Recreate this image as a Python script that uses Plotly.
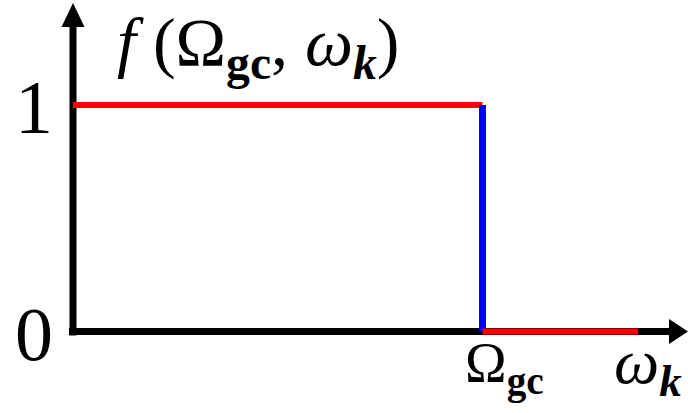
import plotly.graph_objects as go

# Ideal low-pass gate f(Ω_gc, ω_k): 1 below the cutoff, 0 above it
cutoff = 1.0
pass_x = [0.0, cutoff]
pass_y = [1, 1]
edge_x = [cutoff, cutoff]
edge_y = [1, 0]
stop_x = [cutoff, 1.38]
stop_y = [0, 0]
y_ticks = [0, 1]
y_tick_labels = ["0", "1"]

W, H = 688, 413
# pixel placement of the origin and of the (cutoff, 1) corner
ox, oy = 73.0, 331.5
cx, cy = 482.5, 105.0
sx = (cx - ox) / cutoff
sy = (oy - cy) / 1.0
x_range = [-ox / sx, (W - ox) / sx]
y_range = [-(H - oy) / sy, oy / sy]

# axis arrows (in data units derived from pixel sizes)
x_tip = (688 - ox) / sx
x_head_len = 19 / sx
x_head_half = 12.5 / sy
y_tip = (oy - 3) / sy
y_head_len = 24 / sy
y_head_half = 11.5 / sx
axis_w = 7

fig = go.Figure()

shapes = [
    dict(type="line", xref="x", yref="y", x0=-4 / sx, y0=0,
         x1=x_tip - x_head_len, y1=0, line=dict(color="black", width=axis_w), layer="below"),
    dict(type="line", xref="x", yref="y", x0=0, y0=-4 / sy, x1=0, y1=y_tip - y_head_len,
         line=dict(color="black", width=axis_w), layer="below"),
    dict(type="path", xref="x", yref="y",
         path=f"M {x_tip} 0 L {x_tip - x_head_len} {x_head_half} L {x_tip - x_head_len} {-x_head_half} Z",
         fillcolor="black", line=dict(width=0), layer="below"),
    dict(type="path", xref="x", yref="y",
         path=f"M 0 {y_tip} L {y_head_half} {y_tip - y_head_len} L {-y_head_half} {y_tip - y_head_len} Z",
         fillcolor="black", line=dict(width=0), layer="below"),
]

fig.add_trace(go.Scatter(x=pass_x, y=pass_y, mode="lines",
                         line=dict(color="#ff0000", width=6), hoverinfo="skip"))
fig.add_trace(go.Scatter(x=edge_x, y=edge_y, mode="lines",
                         line=dict(color="#0000ff", width=7), hoverinfo="skip"))
fig.add_trace(go.Scatter(x=stop_x, y=stop_y, mode="lines",
                         line=dict(color="#ff0000", width=6), hoverinfo="skip"))

serif = "Liberation Serif"
annotations = []
for v, t in zip(y_ticks, y_tick_labels):
    annotations.append(dict(x=0, y=v, xref="x", yref="y", text=t, showarrow=False,
                            xanchor="right", yanchor="middle", xshift=-18, yshift=-2,
                            font=dict(family=serif, size=76, color="black")))
annotations.append(dict(x=0, y=1, xref="x", yref="y",
                        text="<i>f</i> (Ω<sub><b>gc</b></sub>, <i>ω<sub><b>k</b></sub></i>)",
                        showarrow=False, xanchor="left", yanchor="bottom",
                        xshift=42, yshift=14,
                        font=dict(family=serif, size=68, color="black")))
annotations.append(dict(x=cutoff, y=0, xref="x", yref="y",
                        text="Ω<sub><b>gc</b></sub>", showarrow=False,
                        xanchor="center", yanchor="top", xshift=22, yshift=2,
                        font=dict(family=serif, size=56, color="black")))
annotations.append(dict(x=x_tip, y=0, xref="x", yref="y",
                        text="<i>ω<sub><b>k</b></sub></i>", showarrow=False,
                        xanchor="right", yanchor="top", xshift=-4, yshift=8,
                        font=dict(family=serif, size=64, color="black")))

fig.update_layout(
    width=W, height=H,
    margin=dict(l=0, r=0, t=0, b=0),
    paper_bgcolor="white", plot_bgcolor="white",
    showlegend=False,
    xaxis=dict(range=x_range, visible=False, fixedrange=True),
    yaxis=dict(range=y_range, visible=False, fixedrange=True),
    shapes=shapes,
    annotations=annotations,
)

fig.write_html("out.html")
